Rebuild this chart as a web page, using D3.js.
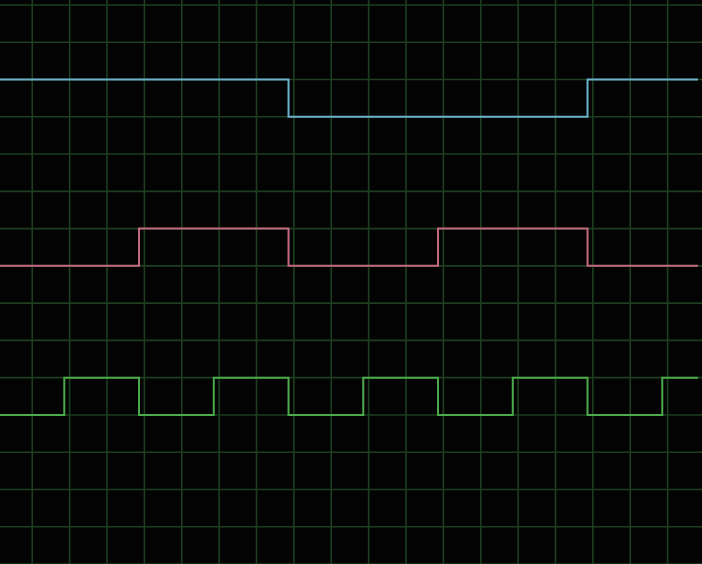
<!DOCTYPE html>
<html><head><meta charset="utf-8">
<script src="https://cdn.jsdelivr.net/npm/d3@7"></script>
<style>html,body{margin:0;padding:0;background:#030303;overflow:hidden}</style>
</head><body>
<svg id="c" width="702" height="564"></svg>
<script>
// time in half-periods of the fastest clock; levels on grid rows
const timeDomain = [0.14, 9.478];
const gridCols = d3.range(0, 20);      // vertical grid lines (half-steps)
const gridRows = d3.range(0, 16);      // horizontal grid lines
const signalNames = ["clk4", "clk2", "clk1"];
const signalColors = ["#6cb2cc", "#c46a80", "#4caa4c"];
const signalHighRow = [2, 6, 10];
// transitions: [time, level] pairs (1 = high, 0 = low)
const clk4 = [[0.14,1],[4,0],[8,1],[9.478,1]];
const clk2 = [[0.14,0],[2,1],[4,0],[6,1],[8,0],[9.478,0]];
const clk1 = [[0.14,0],[1,1],[2,0],[3,1],[4,0],[5,1],[6,0],[7,1],[8,0],[9,1],[9.478,1]];
const signals = [clk4, clk2, clk1];

const svg = d3.select("#c");
const x = d3.scaleLinear().domain(timeDomain).range([0, 698]);
const gx = d3.scaleLinear().domain([0, 1]).range([x(0.0716), x(0.5716)]);
const gy = d3.scaleLinear().domain([0, 15]).range([5, 564]);

svg.append("rect").attr("width",702).attr("height",564).attr("fill","#030303");
const g = svg.append("g");
g.selectAll("line.v").data(gridCols).join("line").attr("class","v")
  .attr("x1", d => gx(d)).attr("x2", d => gx(d)).attr("y1", 0).attr("y2", 564)
  .attr("stroke", "#1d3f1f").attr("stroke-width", 1.6);
g.selectAll("line.h").data(gridRows).join("line").attr("class","h")
  .attr("y1", d => gy(d)).attr("y2", d => gy(d)).attr("x1", 0).attr("x2", 702)
  .attr("stroke", "#1d3f1f").attr("stroke-width", 1.6);

signals.forEach((s, i) => {
  const line = d3.line()
    .x(d => x(d[0]))
    .y(d => gy(signalHighRow[i] + (d[1] ? 0 : 1)))
    .curve(d3.curveStepAfter);
  svg.append("path").datum(s).attr("d", line)
    .attr("fill", "none").attr("stroke", signalColors[i])
    .attr("stroke-width", 2).attr("stroke-linejoin","miter")
    .attr("data-name", signalNames[i]);
});
</script>
</body></html>
